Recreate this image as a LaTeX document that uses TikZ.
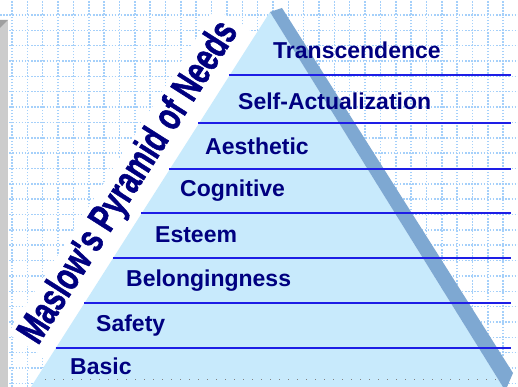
\documentclass[tikz,border=0pt]{standalone}
\usepackage{fontspec}
\setmainfont{Liberation Sans}
\newfontfamily\titlefont{Liberation Sans Bold}[FakeBold=1.6]
\usepackage{tikz}
\definecolor{navy}{RGB}{0,0,128}
\definecolor{pyrblue}{RGB}{200,234,252}
\definecolor{bandblue}{RGB}{126,168,210}
\definecolor{gridblue}{RGB}{165,208,250}
\definecolor{rungblue}{RGB}{30,30,230}

\begin{document}
\begin{tikzpicture}[x=1pt,y=1pt,
		level/.style={anchor=base west,inner sep=0pt,text=navy,font=\fontsize{23}{23}\selectfont\bfseries},
		gridline/.style={gridblue,line width=1.5pt,dash pattern=on 1.5pt off 1.6pt}]
				\def\W{518};
				\def\H{387};
				\def\gap{15.35};
				\def\slope{0.634};
				\def\tilt{57.5};
				\useasboundingbox (0,0) rectangle (\W,\H);
				\fill[white] (0,0) rectangle (\W,\H);
				\foreach \i in {0,...,32}
					\draw[gridline] ({12+\i*\gap},0) -- ({12+\i*\gap},\H);
				\foreach \j in {0,...,24}
					\draw[gridline] (0,{372-\j*\gap}) -- (\W,{372-\j*\gap});
				\fill[gray!40] (0,0) rectangle (8,367);
				\fill[gray!75] (0,367) -- (8,367) -- (0,359) -- cycle;
				\begin{scope}[shift={(38,41)},rotate=\tilt]
					\fill[white] (-6,-22) rectangle (380,32);
				\end{scope}
				\fill[pyrblue] (31,0) -- (270,375) -- (503,0) -- cycle;
				\draw[gray,line width=0.8pt,dash pattern=on 1pt off 8pt] (45,8) -- (498,8);
				\fill[bandblue] (270,375) -- (282,379) -- (513,14) -- (507,0) -- (503,0) -- cycle;
				\foreach \Y in {312,264,218,174,129,84,39}
					\draw[rungblue,line width=1.3pt] ({31+\Y*\slope},\Y) -- (511,\Y);
				\node[level] (transcendence) at (273,328) {Transcendence};
				\node[level] (selfact) at (238,277) {Self-Actualization};
				\node[level] (aesthetic) at (205,232) {Aesthetic};
				\node[level] (cognitive) at (180,190) {Cognitive};
				\node[level] (esteem) at (155,144) {Esteem};
				\node[level] (belonging) at (126,100) {Belongingness};
				\node[level] (safety) at (96,55) {Safety};
				\node[level] (basic) at (70,12) {Basic};
				\node[anchor=base west,inner sep=0pt,rotate=\tilt,text=navy] (title) at (38,41)
					{\scalebox{0.71}[1]{\fontsize{40}{40}\selectfont\titlefont Maslow's Pyramid of Needs}};
			\end{tikzpicture}
\end{document}
